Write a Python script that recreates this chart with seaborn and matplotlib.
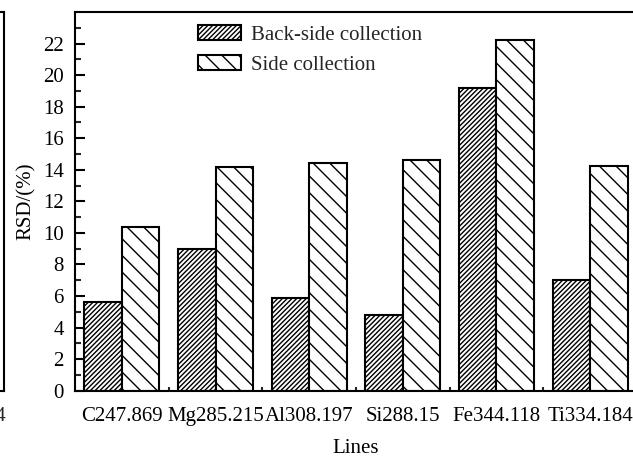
import matplotlib
matplotlib.use("Agg")
import matplotlib.pyplot as plt
import seaborn as sns
import pandas as pd

lines = ["C247.869", "Mg285.215", "Al308.197", "Si288.15", "Fe344.118", "Ti334.184"]
back_side = [5.6, 9.0, 5.9, 4.8, 19.2, 7.0]
side = [10.4, 14.2, 14.45, 14.65, 22.25, 14.25]
series = ["Back-side collection", "Side collection"]
hatches = ["///////", "\\\\"]
y_ticks = list(range(0, 24, 2))

df = pd.DataFrame({
    "Lines": lines * 2,
    "RSD": back_side + side,
    "Collection": [series[0]] * len(lines) + [series[1]] * len(lines),
})

sns.set_theme(style="ticks")
plt.rcParams["font.family"] = ["Liberation Serif", "DejaVu Serif"]
plt.rcParams["hatch.linewidth"] = 1.0
plt.rcParams["hatch.color"] = "black"

W, H = 633, 458
fig = plt.figure(figsize=(W / 100, H / 100), dpi=100)
fs = 15

axL, axR, axB, axT = 75, 637, 390.7, 12
ax = fig.add_axes([axL / W, 1 - axB / H, (axR - axL) / W, (axB - axT) / H])

sns.barplot(data=df, x="Lines", y="RSD", hue="Collection", hue_order=series,
            order=lines, palette=["white", "white"], saturation=1,
            edgecolor="black", linewidth=1.5, errorbar=None, width=0.8,
            gap=0, legend=False, ax=ax)

for cont, h in zip(ax.containers, hatches):
    for p in cont:
        p.set_hatch(h)
        p.set_facecolor("white")
        p.set_edgecolor("black")

ax.set_xlim(-0.5, len(lines) - 0.5)
ax.set_ylim(0, 24)
ax.set_yticks(y_ticks)
ax.set_yticks(range(0, 24), minor=True)
ax.set_xticks([i + 0.5 for i in range(len(lines) - 1)], minor=True)
ax.tick_params(axis="both", which="major", direction="in", length=7, width=1.5,
               labelsize=fs, colors="black")
ax.tick_params(axis="y", which="major", pad=8)
ax.tick_params(axis="x", which="major", pad=12)
ax.tick_params(axis="both", which="minor", direction="in", length=4, width=1.5)
ax.tick_params(axis="x", which="minor", length=3)
for s in ax.spines.values():
    s.set_linewidth(1.5)
    s.set_color("black")
ax.set_xlabel("Lines", fontsize=fs, color="black", labelpad=9)
ax.set_ylabel("RSD/(%)", fontsize=fs, color="black", labelpad=5)

leg = ax.legend(ax.containers, series, loc="upper left",
                bbox_to_anchor=((181 - axL) / (axR - axL), 1.01),
                frameon=False, fontsize=fs, handlelength=2.1, handleheight=0.75,
                handletextpad=0.45, labelspacing=0.5, borderpad=0.3)

# neighbouring panel, only its right edge is visible at the left border
lw = axR - axL
axl = fig.add_axes([(4 - lw) / W, 1 - axB / H, lw / W, (axB - axT) / H])
axl.set_xlim(-0.5, len(lines) - 0.57)
axl.set_ylim(0, 24)
axl.set_xticks([len(lines) - 1])
axl.set_xticklabels([lines[-1]])
axl.set_yticks([])
axl.tick_params(axis="x", direction="in", length=0, labelsize=fs, pad=12)
for s in axl.spines.values():
    s.set_linewidth(1.5)
    s.set_color("black")
axl.set_facecolor("none")

fig.savefig("out.png", dpi=100)
